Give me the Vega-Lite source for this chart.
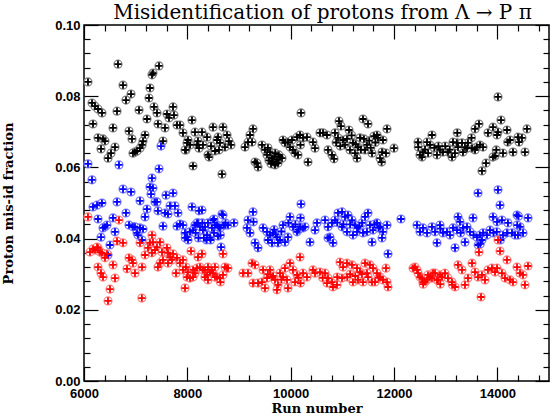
{
"$schema": "https://vega.github.io/schema/vega-lite/v6.json",
"width": 465, "height": 356,
"autosize": "none",
"padding": {"left": 84, "top": 25, "right": 5, "bottom": 35},
"background": "white",
"title": {"text": "Misidentification of protons from Λ → P π", "font": "DejaVu Serif", "fontSize": 20, "fontWeight": "normal", "anchor": "middle", "offset": -4, "dx": 6, "color": "black"},
"datasets": {
"pts": [
{"run":6077,"frac":0.0840,"series":"K"},{"run":6658,"frac":0.0890,"series":"K"},{"run":7452,"frac":0.0885,"series":"K"},{"run":7335,"frac":0.0865,"series":"K"},{"run":7316,"frac":0.0860,"series":"K"},{"run":6755,"frac":0.0831,"series":"K"},{"run":7277,"frac":0.0823,"series":"K"},{"run":6910,"frac":0.0806,"series":"K"},{"run":6813,"frac":0.0789,"series":"K"},{"run":7258,"frac":0.0795,"series":"K"},{"run":6155,"frac":0.0781,"series":"K"},{"run":6213,"frac":0.0772,"series":"K"},{"run":6271,"frac":0.0764,"series":"K"},{"run":6348,"frac":0.0753,"series":"K"},{"run":6639,"frac":0.0758,"series":"K"},{"run":7065,"frac":0.0761,"series":"K"},{"run":7355,"frac":0.0770,"series":"K"},{"run":7413,"frac":0.0753,"series":"K"},{"run":7723,"frac":0.0770,"series":"K"},{"run":7606,"frac":0.0750,"series":"K"},{"run":7645,"frac":0.0739,"series":"K"},{"run":7219,"frac":0.0736,"series":"K"},{"run":7742,"frac":0.0747,"series":"K"},{"run":6174,"frac":0.0722,"series":"K"},{"run":6561,"frac":0.0711,"series":"K"},{"run":7432,"frac":0.0722,"series":"K"},{"run":7568,"frac":0.0711,"series":"K"},{"run":6871,"frac":0.0702,"series":"K"},{"run":7800,"frac":0.0719,"series":"K"},{"run":7858,"frac":0.0719,"series":"K"},{"run":7916,"frac":0.0697,"series":"K"},{"run":8090,"frac":0.0733,"series":"K"},{"run":8148,"frac":0.0699,"series":"K"},{"run":6271,"frac":0.0683,"series":"K"},{"run":6368,"frac":0.0680,"series":"K"},{"run":6406,"frac":0.0674,"series":"K"},{"run":6929,"frac":0.0680,"series":"K"},{"run":7181,"frac":0.0691,"series":"K"},{"run":7142,"frac":0.0674,"series":"K"},{"run":7529,"frac":0.0674,"series":"K"},{"run":6329,"frac":0.0652,"series":"K"},{"run":6600,"frac":0.0657,"series":"K"},{"run":7123,"frac":0.0663,"series":"K"},{"run":7084,"frac":0.0654,"series":"K"},{"run":8013,"frac":0.0677,"series":"K"},{"run":8052,"frac":0.0663,"series":"K"},{"run":8187,"frac":0.0663,"series":"K"},{"run":8226,"frac":0.0654,"series":"K"},{"run":6523,"frac":0.0640,"series":"K"},{"run":6987,"frac":0.0643,"series":"K"},{"run":7026,"frac":0.0646,"series":"K"},{"run":6948,"frac":0.0640,"series":"K"},{"run":7974,"frac":0.0649,"series":"K"},{"run":6465,"frac":0.0626,"series":"K"},{"run":8110,"frac":0.0604,"series":"K"},{"run":8497,"frac":0.0713,"series":"K"},{"run":8690,"frac":0.0713,"series":"K"},{"run":8671,"frac":0.0581,"series":"K"},{"run":8381,"frac":0.0685,"series":"K"},{"run":8284,"frac":0.0699,"series":"K"},{"run":8206,"frac":0.0674,"series":"K"},{"run":8303,"frac":0.0663,"series":"K"},{"run":8400,"frac":0.0635,"series":"K"},{"run":8420,"frac":0.0629,"series":"K"},{"run":7955,"frac":0.0649,"series":"K"},{"run":7994,"frac":0.0669,"series":"K"},{"run":8768,"frac":0.0691,"series":"K"},{"run":8729,"frac":0.0657,"series":"K"},{"run":8594,"frac":0.0685,"series":"K"},{"run":8632,"frac":0.0669,"series":"K"},{"run":8458,"frac":0.0660,"series":"K"},{"run":8535,"frac":0.0646,"series":"K"},{"run":8574,"frac":0.0677,"series":"K"},{"run":8613,"frac":0.0649,"series":"K"},{"run":8806,"frac":0.0674,"series":"K"},{"run":8845,"frac":0.0663,"series":"K"},
{"run":9271,"frac":0.0708,"series":"K"},{"run":9213,"frac":0.0691,"series":"K"},{"run":9174,"frac":0.0671,"series":"K"},{"run":9116,"frac":0.0657,"series":"K"},{"run":9252,"frac":0.0671,"series":"K"},{"run":9310,"frac":0.0615,"series":"K"},{"run":9368,"frac":0.0601,"series":"K"},{"run":9348,"frac":0.0612,"series":"K"},{"run":9445,"frac":0.0663,"series":"K"},{"run":9503,"frac":0.0649,"series":"K"},{"run":9542,"frac":0.0635,"series":"K"},{"run":9600,"frac":0.0643,"series":"K"},{"run":9639,"frac":0.0626,"series":"K"},{"run":9658,"frac":0.0615,"series":"K"},{"run":9697,"frac":0.0607,"series":"K"},{"run":9735,"frac":0.0621,"series":"K"},{"run":9794,"frac":0.0629,"series":"K"},{"run":9755,"frac":0.0612,"series":"K"},{"run":9832,"frac":0.0626,"series":"K"},{"run":9852,"frac":0.0677,"series":"K"},{"run":9890,"frac":0.0669,"series":"K"},{"run":9948,"frac":0.0671,"series":"K"},{"run":9987,"frac":0.0657,"series":"K"},{"run":10026,"frac":0.0677,"series":"K"},{"run":10045,"frac":0.0649,"series":"K"},{"run":10123,"frac":0.0685,"series":"K"},{"run":10181,"frac":0.0691,"series":"K"},{"run":10239,"frac":0.0683,"series":"K"},{"run":10190,"frac":0.0663,"series":"K"},{"run":10084,"frac":0.0640,"series":"K"},{"run":10142,"frac":0.0635,"series":"K"},{"run":10316,"frac":0.0685,"series":"K"},{"run":10335,"frac":0.0615,"series":"K"},{"run":10432,"frac":0.0671,"series":"K"},{"run":10471,"frac":0.0654,"series":"K"},{"run":10200,"frac":0.0753,"series":"K"},{"run":9580,"frac":0.0620,"series":"K"},{"run":9620,"frac":0.0610,"series":"K"},{"run":9680,"frac":0.0630,"series":"K"},{"run":9700,"frac":0.0640,"series":"K"},{"run":9720,"frac":0.0615,"series":"K"},{"run":9770,"frac":0.0635,"series":"K"},{"run":9560,"frac":0.0655,"series":"K"},
{"run":10568,"frac":0.0697,"series":"K"},{"run":10626,"frac":0.0697,"series":"K"},{"run":10703,"frac":0.0691,"series":"K"},{"run":10723,"frac":0.0649,"series":"K"},{"run":10800,"frac":0.0635,"series":"K"},{"run":10839,"frac":0.0624,"series":"K"},{"run":10858,"frac":0.0697,"series":"K"},{"run":10936,"frac":0.0730,"series":"K"},{"run":10974,"frac":0.0716,"series":"K"},{"run":10916,"frac":0.0683,"series":"K"},{"run":11013,"frac":0.0677,"series":"K"},{"run":11052,"frac":0.0663,"series":"K"},{"run":11129,"frac":0.0705,"series":"K"},{"run":11148,"frac":0.0649,"series":"K"},{"run":11206,"frac":0.0669,"series":"K"},{"run":11245,"frac":0.0640,"series":"K"},{"run":11284,"frac":0.0626,"series":"K"},{"run":11303,"frac":0.0657,"series":"K"},{"run":11342,"frac":0.0683,"series":"K"},{"run":11400,"frac":0.0736,"series":"K"},{"run":11419,"frac":0.0680,"series":"K"},{"run":11439,"frac":0.0649,"series":"K"},{"run":11497,"frac":0.0722,"series":"K"},{"run":11477,"frac":0.0663,"series":"K"},{"run":11574,"frac":0.0640,"series":"K"},{"run":11613,"frac":0.0688,"series":"K"},{"run":11671,"frac":0.0691,"series":"K"},{"run":11690,"frac":0.0683,"series":"K"},{"run":11787,"frac":0.0677,"series":"K"},{"run":11768,"frac":0.0643,"series":"K"},{"run":11865,"frac":0.0708,"series":"K"},{"run":11845,"frac":0.0640,"series":"K"},{"run":11760,"frac":0.0615,"series":"K"},{"run":12000,"frac":0.0654,"series":"K"},{"run":11729,"frac":0.0626,"series":"K"},{"run":10880,"frac":0.0670,"series":"K"},{"run":10960,"frac":0.0660,"series":"K"},{"run":11090,"frac":0.0680,"series":"K"},{"run":11180,"frac":0.0690,"series":"K"},{"run":11260,"frac":0.0665,"series":"K"},{"run":11360,"frac":0.0650,"series":"K"},{"run":11520,"frac":0.0675,"series":"K"},{"run":11550,"frac":0.0655,"series":"K"},{"run":11640,"frac":0.0670,"series":"K"},
{"run":13568,"frac":0.0708,"series":"K"},{"run":13645,"frac":0.0722,"series":"K"},{"run":13819,"frac":0.0697,"series":"K"},{"run":13916,"frac":0.0713,"series":"K"},{"run":14013,"frac":0.0699,"series":"K"},{"run":13994,"frac":0.0691,"series":"K"},{"run":14071,"frac":0.0733,"series":"K"},{"run":14187,"frac":0.0705,"series":"K"},{"run":14200,"frac":0.0671,"series":"K"},{"run":14245,"frac":0.0677,"series":"K"},{"run":14400,"frac":0.0685,"series":"K"},{"run":14419,"frac":0.0671,"series":"K"},{"run":14477,"frac":0.0683,"series":"K"},{"run":14574,"frac":0.0708,"series":"K"},{"run":14535,"frac":0.0643,"series":"K"},{"run":14303,"frac":0.0643,"series":"K"},{"run":14110,"frac":0.0640,"series":"K"},{"run":13980,"frac":0.0649,"series":"K"},{"run":13955,"frac":0.0632,"series":"K"},{"run":13916,"frac":0.0629,"series":"K"},{"run":13781,"frac":0.0612,"series":"K"},{"run":13703,"frac":0.0590,"series":"K"},{"run":13606,"frac":0.0657,"series":"K"},{"run":13568,"frac":0.0649,"series":"K"},{"run":13665,"frac":0.0663,"series":"K"},{"run":13723,"frac":0.0657,"series":"K"},{"run":13510,"frac":0.0654,"series":"K"},{"run":13500,"frac":0.0683,"series":"K"},{"run":13413,"frac":0.0654,"series":"K"},{"run":13432,"frac":0.0669,"series":"K"},{"run":13335,"frac":0.0643,"series":"K"},{"run":13239,"frac":0.0657,"series":"K"},{"run":13219,"frac":0.0669,"series":"K"},{"run":13142,"frac":0.0671,"series":"K"},{"run":13225,"frac":0.0697,"series":"K"},{"run":13316,"frac":0.0669,"series":"K"},{"run":13374,"frac":0.0657,"series":"K"},{"run":13123,"frac":0.0629,"series":"K"},{"run":13045,"frac":0.0643,"series":"K"},{"run":12948,"frac":0.0643,"series":"K"},{"run":12890,"frac":0.0649,"series":"K"},{"run":12832,"frac":0.0635,"series":"K"},{"run":12735,"frac":0.0691,"series":"K"},{"run":12697,"frac":0.0663,"series":"K"},{"run":12639,"frac":0.0671,"series":"K"},{"run":12542,"frac":0.0629,"series":"K"},{"run":12561,"frac":0.0643,"series":"K"},{"run":12465,"frac":0.0671,"series":"K"},{"run":12470,"frac":0.0657,"series":"K"},{"run":12503,"frac":0.0635,"series":"K"},{"run":14013,"frac":0.0798,"series":"K"},{"run":12600,"frac":0.0650,"series":"K"},{"run":12780,"frac":0.0655,"series":"K"},{"run":12990,"frac":0.0660,"series":"K"},{"run":13080,"frac":0.0650,"series":"K"},{"run":13180,"frac":0.0640,"series":"K"},{"run":12660,"frac":0.0640,"series":"K"},{"run":12860,"frac":0.0660,"series":"K"},
{"run":6077,"frac":0.0610,"series":"B"},{"run":6155,"frac":0.0565,"series":"B"},{"run":6677,"frac":0.0607,"series":"B"},{"run":7452,"frac":0.0596,"series":"B"},{"run":7490,"frac":0.0660,"series":"B"},{"run":7316,"frac":0.0570,"series":"B"},{"run":7277,"frac":0.0545,"series":"B"},{"run":7335,"frac":0.0542,"series":"B"},{"run":7297,"frac":0.0525,"series":"B"},{"run":6755,"frac":0.0539,"series":"B"},{"run":6910,"frac":0.0531,"series":"B"},{"run":6174,"frac":0.0489,"series":"B"},{"run":6252,"frac":0.0494,"series":"B"},{"run":6348,"frac":0.0500,"series":"B"},{"run":6639,"frac":0.0503,"series":"B"},{"run":7084,"frac":0.0506,"series":"B"},{"run":7374,"frac":0.0503,"series":"B"},{"run":7413,"frac":0.0503,"series":"B"},{"run":7587,"frac":0.0522,"series":"B"},{"run":7723,"frac":0.0528,"series":"B"},{"run":7665,"frac":0.0492,"series":"B"},{"run":7761,"frac":0.0492,"series":"B"},{"run":8090,"frac":0.0489,"series":"B"},{"run":8226,"frac":0.0478,"series":"B"},{"run":7219,"frac":0.0483,"series":"B"},{"run":7432,"frac":0.0478,"series":"B"},{"run":7568,"frac":0.0472,"series":"B"},{"run":7626,"frac":0.0469,"series":"B"},{"run":7819,"frac":0.0472,"series":"B"},{"run":6813,"frac":0.0472,"series":"B"},{"run":6271,"frac":0.0455,"series":"B"},{"run":6561,"frac":0.0458,"series":"B"},{"run":7181,"frac":0.0461,"series":"B"},{"run":6406,"frac":0.0433,"series":"B"},{"run":6368,"frac":0.0430,"series":"B"},{"run":6445,"frac":0.0438,"series":"B"},{"run":6871,"frac":0.0438,"series":"B"},{"run":6948,"frac":0.0433,"series":"B"},{"run":6987,"frac":0.0433,"series":"B"},{"run":7084,"frac":0.0430,"series":"B"},{"run":7142,"frac":0.0427,"series":"B"},{"run":7529,"frac":0.0435,"series":"B"},{"run":7800,"frac":0.0435,"series":"B"},{"run":7858,"frac":0.0441,"series":"B"},{"run":7916,"frac":0.0438,"series":"B"},{"run":6600,"frac":0.0419,"series":"B"},{"run":7026,"frac":0.0416,"series":"B"},{"run":6329,"frac":0.0404,"series":"B"},{"run":7045,"frac":0.0410,"series":"B"},{"run":7123,"frac":0.0396,"series":"B"},{"run":7955,"frac":0.0416,"series":"B"},{"run":7994,"frac":0.0404,"series":"B"},{"run":8052,"frac":0.0419,"series":"B"},{"run":8110,"frac":0.0424,"series":"B"},{"run":8148,"frac":0.0438,"series":"B"},{"run":8206,"frac":0.0444,"series":"B"},{"run":7960,"frac":0.0402,"series":"B"},{"run":8013,"frac":0.0396,"series":"B"},{"run":6503,"frac":0.0382,"series":"B"},{"run":6465,"frac":0.0354,"series":"B"},{"run":8671,"frac":0.0469,"series":"B"},{"run":8497,"frac":0.0452,"series":"B"},{"run":8574,"frac":0.0438,"series":"B"},{"run":8632,"frac":0.0430,"series":"B"},{"run":8729,"frac":0.0438,"series":"B"},{"run":8787,"frac":0.0438,"series":"B"},{"run":8303,"frac":0.0424,"series":"B"},{"run":8381,"frac":0.0410,"series":"B"},{"run":8439,"frac":0.0402,"series":"B"},{"run":8516,"frac":0.0416,"series":"B"},{"run":8594,"frac":0.0407,"series":"B"},{"run":8652,"frac":0.0376,"series":"B"},{"run":8245,"frac":0.0433,"series":"B"},{"run":8187,"frac":0.0444,"series":"B"},{"run":8160,"frac":0.0416,"series":"B"},{"run":8215,"frac":0.0402,"series":"B"},{"run":8370,"frac":0.0396,"series":"B"},{"run":8284,"frac":0.0480,"series":"B"},{"run":8290,"frac":0.0444,"series":"B"},{"run":8342,"frac":0.0433,"series":"B"},{"run":8400,"frac":0.0444,"series":"B"},{"run":8477,"frac":0.0430,"series":"B"},{"run":8535,"frac":0.0438,"series":"B"},{"run":8600,"frac":0.0433,"series":"B"},{"run":8700,"frac":0.0438,"series":"B"},{"run":8740,"frac":0.0444,"series":"B"},{"run":8450,"frac":0.0396,"series":"B"},{"run":8320,"frac":0.0402,"series":"B"},{"run":8640,"frac":0.0410,"series":"B"},{"run":8690,"frac":0.0466,"series":"B"},{"run":8516,"frac":0.0455,"series":"B"},{"run":8903,"frac":0.0444,"series":"B"},
{"run":9271,"frac":0.0475,"series":"B"},{"run":9174,"frac":0.0452,"series":"B"},{"run":9280,"frac":0.0447,"series":"B"},{"run":9155,"frac":0.0430,"series":"B"},{"run":9213,"frac":0.0416,"series":"B"},{"run":9310,"frac":0.0388,"series":"B"},{"run":9368,"frac":0.0374,"series":"B"},{"run":9465,"frac":0.0430,"series":"B"},{"run":9542,"frac":0.0419,"series":"B"},{"run":9600,"frac":0.0410,"series":"B"},{"run":9658,"frac":0.0416,"series":"B"},{"run":9735,"frac":0.0404,"series":"B"},{"run":9794,"frac":0.0396,"series":"B"},{"run":9561,"frac":0.0396,"series":"B"},{"run":9639,"frac":0.0388,"series":"B"},{"run":9755,"frac":0.0388,"series":"B"},{"run":9890,"frac":0.0390,"series":"B"},{"run":9948,"frac":0.0404,"series":"B"},{"run":9852,"frac":0.0438,"series":"B"},{"run":9955,"frac":0.0444,"series":"B"},{"run":9987,"frac":0.0461,"series":"B"},{"run":10045,"frac":0.0433,"series":"B"},{"run":10123,"frac":0.0419,"series":"B"},{"run":10181,"frac":0.0433,"series":"B"},{"run":10239,"frac":0.0430,"series":"B"},{"run":10277,"frac":0.0433,"series":"B"},{"run":10190,"frac":0.0458,"series":"B"},{"run":10200,"frac":0.0497,"series":"B"},{"run":10374,"frac":0.0390,"series":"B"},{"run":10471,"frac":0.0424,"series":"B"},{"run":10510,"frac":0.0444,"series":"B"},{"run":9680,"frac":0.0425,"series":"B"},{"run":9710,"frac":0.0412,"series":"B"},{"run":9820,"frac":0.0420,"series":"B"},{"run":10090,"frac":0.0440,"series":"B"},{"run":10150,"frac":0.0425,"series":"B"},
{"run":10665,"frac":0.0452,"series":"B"},{"run":10723,"frac":0.0433,"series":"B"},{"run":10800,"frac":0.0444,"series":"B"},{"run":10858,"frac":0.0452,"series":"B"},{"run":10916,"frac":0.0472,"series":"B"},{"run":10994,"frac":0.0475,"series":"B"},{"run":11052,"frac":0.0461,"series":"B"},{"run":11110,"frac":0.0466,"series":"B"},{"run":11187,"frac":0.0452,"series":"B"},{"run":11245,"frac":0.0438,"series":"B"},{"run":11303,"frac":0.0430,"series":"B"},{"run":11381,"frac":0.0444,"series":"B"},{"run":11439,"frac":0.0461,"series":"B"},{"run":11497,"frac":0.0472,"series":"B"},{"run":11535,"frac":0.0438,"series":"B"},{"run":11594,"frac":0.0424,"series":"B"},{"run":11671,"frac":0.0444,"series":"B"},{"run":11729,"frac":0.0433,"series":"B"},{"run":11787,"frac":0.0419,"series":"B"},{"run":11865,"frac":0.0438,"series":"B"},{"run":11768,"frac":0.0402,"series":"B"},{"run":11574,"frac":0.0390,"series":"B"},{"run":10723,"frac":0.0402,"series":"B"},{"run":10819,"frac":0.0388,"series":"B"},{"run":10761,"frac":0.0404,"series":"B"},{"run":10994,"frac":0.0433,"series":"B"},{"run":11090,"frac":0.0419,"series":"B"},{"run":11206,"frac":0.0410,"series":"B"},{"run":11284,"frac":0.0419,"series":"B"},{"run":11400,"frac":0.0416,"series":"B"},{"run":11477,"frac":0.0419,"series":"B"},{"run":12135,"frac":0.0455,"series":"B"},{"run":11884,"frac":0.0357,"series":"B"},{"run":10900,"frac":0.0445,"series":"B"},{"run":11020,"frac":0.0440,"series":"B"},{"run":11150,"frac":0.0440,"series":"B"},{"run":11330,"frac":0.0435,"series":"B"},{"run":11620,"frac":0.0440,"series":"B"},{"run":11700,"frac":0.0430,"series":"B"},
{"run":12445,"frac":0.0438,"series":"B"},{"run":12503,"frac":0.0419,"series":"B"},{"run":12561,"frac":0.0430,"series":"B"},{"run":12639,"frac":0.0416,"series":"B"},{"run":12735,"frac":0.0433,"series":"B"},{"run":12794,"frac":0.0419,"series":"B"},{"run":12832,"frac":0.0388,"series":"B"},{"run":12890,"frac":0.0438,"series":"B"},{"run":13626,"frac":0.0528,"series":"B"},{"run":14013,"frac":0.0537,"series":"B"},{"run":14052,"frac":0.0494,"series":"B"},{"run":13239,"frac":0.0461,"series":"B"},{"run":13277,"frac":0.0447,"series":"B"},{"run":13529,"frac":0.0458,"series":"B"},{"run":13916,"frac":0.0461,"series":"B"},{"run":13994,"frac":0.0447,"series":"B"},{"run":14090,"frac":0.0452,"series":"B"},{"run":14206,"frac":0.0444,"series":"B"},{"run":14381,"frac":0.0466,"series":"B"},{"run":14439,"frac":0.0433,"series":"B"},{"run":12900,"frac":0.0428,"series":"B"},{"run":12948,"frac":0.0416,"series":"B"},{"run":13026,"frac":0.0419,"series":"B"},{"run":13084,"frac":0.0410,"series":"B"},{"run":13142,"frac":0.0430,"series":"B"},{"run":13219,"frac":0.0424,"series":"B"},{"run":13290,"frac":0.0416,"series":"B"},{"run":13335,"frac":0.0430,"series":"B"},{"run":13413,"frac":0.0433,"series":"B"},{"run":13471,"frac":0.0419,"series":"B"},{"run":13540,"frac":0.0410,"series":"B"},{"run":13606,"frac":0.0404,"series":"B"},{"run":13665,"frac":0.0410,"series":"B"},{"run":13723,"frac":0.0416,"series":"B"},{"run":13800,"frac":0.0410,"series":"B"},{"run":13858,"frac":0.0424,"series":"B"},{"run":13925,"frac":0.0416,"series":"B"},{"run":13990,"frac":0.0419,"series":"B"},{"run":14060,"frac":0.0396,"series":"B"},{"run":14110,"frac":0.0410,"series":"B"},{"run":14187,"frac":0.0416,"series":"B"},{"run":14284,"frac":0.0416,"series":"B"},{"run":14342,"frac":0.0410,"series":"B"},{"run":14400,"frac":0.0410,"series":"B"},{"run":13181,"frac":0.0374,"series":"B"},{"run":13374,"frac":0.0390,"series":"B"},{"run":13630,"frac":0.0382,"series":"B"},{"run":13703,"frac":0.0396,"series":"B"},{"run":14594,"frac":0.0458,"series":"B"},{"run":14410,"frac":0.0463,"series":"B"},{"run":14497,"frac":0.0416,"series":"B"},{"run":14385,"frac":0.0438,"series":"B"},{"run":13670,"frac":0.0385,"series":"B"},
{"run":6077,"frac":0.0461,"series":"R"},{"run":6677,"frac":0.0452,"series":"R"},{"run":6174,"frac":0.0371,"series":"R"},{"run":6116,"frac":0.0362,"series":"R"},{"run":6213,"frac":0.0368,"series":"R"},{"run":6271,"frac":0.0374,"series":"R"},{"run":6310,"frac":0.0362,"series":"R"},{"run":6348,"frac":0.0360,"series":"R"},{"run":6252,"frac":0.0376,"series":"R"},{"run":6406,"frac":0.0346,"series":"R"},{"run":6445,"frac":0.0357,"series":"R"},{"run":6271,"frac":0.0320,"series":"R"},{"run":6329,"frac":0.0303,"series":"R"},{"run":6368,"frac":0.0292,"series":"R"},{"run":6561,"frac":0.0326,"series":"R"},{"run":6600,"frac":0.0289,"series":"R"},{"run":6503,"frac":0.0258,"series":"R"},{"run":6465,"frac":0.0225,"series":"R"},{"run":6639,"frac":0.0393,"series":"R"},{"run":6755,"frac":0.0388,"series":"R"},{"run":6832,"frac":0.0315,"series":"R"},{"run":6871,"frac":0.0346,"series":"R"},{"run":6929,"frac":0.0340,"series":"R"},{"run":6948,"frac":0.0331,"series":"R"},{"run":6987,"frac":0.0303,"series":"R"},{"run":7123,"frac":0.0320,"series":"R"},{"run":7120,"frac":0.0233,"series":"R"},{"run":7084,"frac":0.0388,"series":"R"},{"run":7316,"frac":0.0410,"series":"R"},{"run":7277,"frac":0.0388,"series":"R"},{"run":7335,"frac":0.0390,"series":"R"},{"run":7471,"frac":0.0390,"series":"R"},{"run":7413,"frac":0.0376,"series":"R"},{"run":7239,"frac":0.0374,"series":"R"},{"run":7316,"frac":0.0360,"series":"R"},{"run":7374,"frac":0.0368,"series":"R"},{"run":7510,"frac":0.0362,"series":"R"},{"run":7181,"frac":0.0354,"series":"R"},{"run":7606,"frac":0.0374,"series":"R"},{"run":7626,"frac":0.0360,"series":"R"},{"run":7665,"frac":0.0348,"series":"R"},{"run":7723,"frac":0.0357,"series":"R"},{"run":7800,"frac":0.0346,"series":"R"},{"run":7858,"frac":0.0331,"series":"R"},{"run":7916,"frac":0.0340,"series":"R"},{"run":7974,"frac":0.0320,"series":"R"},{"run":7471,"frac":0.0331,"series":"R"},{"run":7529,"frac":0.0340,"series":"R"},{"run":7432,"frac":0.0320,"series":"R"},{"run":7626,"frac":0.0331,"series":"R"},{"run":7703,"frac":0.0340,"series":"R"},{"run":7781,"frac":0.0303,"series":"R"},{"run":7916,"frac":0.0312,"series":"R"},{"run":7994,"frac":0.0292,"series":"R"},{"run":8052,"frac":0.0289,"series":"R"},{"run":8110,"frac":0.0312,"series":"R"},{"run":8187,"frac":0.0317,"series":"R"},{"run":8013,"frac":0.0306,"series":"R"},{"run":8148,"frac":0.0303,"series":"R"},{"run":8071,"frac":0.0365,"series":"R"},{"run":8206,"frac":0.0348,"series":"R"},{"run":7955,"frac":0.0261,"series":"R"},{"run":8690,"frac":0.0357,"series":"R"},{"run":8245,"frac":0.0320,"series":"R"},{"run":8303,"frac":0.0312,"series":"R"},{"run":8381,"frac":0.0298,"series":"R"},{"run":8439,"frac":0.0306,"series":"R"},{"run":8497,"frac":0.0303,"series":"R"},{"run":8574,"frac":0.0292,"series":"R"},{"run":8632,"frac":0.0289,"series":"R"},{"run":8690,"frac":0.0298,"series":"R"},{"run":8768,"frac":0.0317,"series":"R"},{"run":8640,"frac":0.0278,"series":"R"},{"run":8110,"frac":0.0292,"series":"R"},{"run":8284,"frac":0.0357,"series":"R"},{"run":8729,"frac":0.0320,"series":"R"},{"run":8787,"frac":0.0317,"series":"R"},{"run":8342,"frac":0.0312,"series":"R"},{"run":8400,"frac":0.0320,"series":"R"},{"run":8477,"frac":0.0312,"series":"R"},{"run":8535,"frac":0.0320,"series":"R"},{"run":8342,"frac":0.0292,"series":"R"},{"run":8400,"frac":0.0284,"series":"R"},{"run":8535,"frac":0.0292,"series":"R"},
{"run":9077,"frac":0.0303,"series":"R"},{"run":9174,"frac":0.0303,"series":"R"},{"run":9252,"frac":0.0331,"series":"R"},{"run":9310,"frac":0.0326,"series":"R"},{"run":9271,"frac":0.0275,"series":"R"},{"run":9368,"frac":0.0275,"series":"R"},{"run":9445,"frac":0.0278,"series":"R"},{"run":9503,"frac":0.0261,"series":"R"},{"run":9465,"frac":0.0312,"series":"R"},{"run":9600,"frac":0.0312,"series":"R"},{"run":9639,"frac":0.0292,"series":"R"},{"run":9697,"frac":0.0284,"series":"R"},{"run":9755,"frac":0.0270,"series":"R"},{"run":9794,"frac":0.0303,"series":"R"},{"run":9852,"frac":0.0292,"series":"R"},{"run":9929,"frac":0.0284,"series":"R"},{"run":9948,"frac":0.0261,"series":"R"},{"run":9890,"frac":0.0317,"series":"R"},{"run":9987,"frac":0.0331,"series":"R"},{"run":10045,"frac":0.0312,"series":"R"},{"run":10123,"frac":0.0298,"series":"R"},{"run":10181,"frac":0.0348,"series":"R"},{"run":10239,"frac":0.0303,"series":"R"},{"run":10316,"frac":0.0292,"series":"R"},{"run":10432,"frac":0.0312,"series":"R"},{"run":10471,"frac":0.0303,"series":"R"},{"run":10190,"frac":0.0275,"series":"R"},{"run":10084,"frac":0.0278,"series":"R"},{"run":9735,"frac":0.0256,"series":"R"},{"run":9542,"frac":0.0289,"series":"R"},{"run":9560,"frac":0.0300,"series":"R"},{"run":9660,"frac":0.0295,"series":"R"},{"run":9820,"frac":0.0285,"series":"R"},{"run":10150,"frac":0.0290,"series":"R"},
{"run":10568,"frac":0.0306,"series":"R"},{"run":10665,"frac":0.0303,"series":"R"},{"run":10723,"frac":0.0289,"series":"R"},{"run":10800,"frac":0.0278,"series":"R"},{"run":10819,"frac":0.0264,"series":"R"},{"run":10897,"frac":0.0270,"series":"R"},{"run":10955,"frac":0.0334,"series":"R"},{"run":11013,"frac":0.0320,"series":"R"},{"run":11090,"frac":0.0331,"series":"R"},{"run":11187,"frac":0.0326,"series":"R"},{"run":11284,"frac":0.0317,"series":"R"},{"run":11342,"frac":0.0306,"series":"R"},{"run":11439,"frac":0.0331,"series":"R"},{"run":11535,"frac":0.0326,"series":"R"},{"run":11594,"frac":0.0317,"series":"R"},{"run":11477,"frac":0.0303,"series":"R"},{"run":11574,"frac":0.0278,"series":"R"},{"run":11671,"frac":0.0303,"series":"R"},{"run":11729,"frac":0.0292,"series":"R"},{"run":11787,"frac":0.0284,"series":"R"},{"run":11865,"frac":0.0278,"series":"R"},{"run":11884,"frac":0.0264,"series":"R"},{"run":10703,"frac":0.0275,"series":"R"},{"run":10900,"frac":0.0292,"series":"R"},{"run":10994,"frac":0.0289,"series":"R"},{"run":11095,"frac":0.0292,"series":"R"},{"run":11206,"frac":0.0278,"series":"R"},{"run":11303,"frac":0.0284,"series":"R"},{"run":11400,"frac":0.0278,"series":"R"},{"run":11497,"frac":0.0292,"series":"R"},{"run":11632,"frac":0.0278,"series":"R"},{"run":11845,"frac":0.0317,"series":"R"},{"run":10620,"frac":0.0290,"series":"R"},{"run":11150,"frac":0.0300,"series":"R"},{"run":11250,"frac":0.0295,"series":"R"},{"run":11380,"frac":0.0300,"series":"R"},{"run":11700,"frac":0.0290,"series":"R"},
{"run":12368,"frac":0.0317,"series":"R"},{"run":12406,"frac":0.0320,"series":"R"},{"run":12445,"frac":0.0312,"series":"R"},{"run":12503,"frac":0.0292,"series":"R"},{"run":12561,"frac":0.0278,"series":"R"},{"run":12639,"frac":0.0284,"series":"R"},{"run":12697,"frac":0.0292,"series":"R"},{"run":12755,"frac":0.0303,"series":"R"},{"run":12832,"frac":0.0284,"series":"R"},{"run":12890,"frac":0.0298,"series":"R"},{"run":12465,"frac":0.0303,"series":"R"},{"run":12542,"frac":0.0289,"series":"R"},{"run":12600,"frac":0.0278,"series":"R"},{"run":12658,"frac":0.0298,"series":"R"},{"run":12735,"frac":0.0289,"series":"R"},{"run":12794,"frac":0.0303,"series":"R"},{"run":12852,"frac":0.0284,"series":"R"},{"run":12929,"frac":0.0292,"series":"R"},{"run":12987,"frac":0.0303,"series":"R"},{"run":13045,"frac":0.0289,"series":"R"},{"run":13123,"frac":0.0278,"series":"R"},{"run":13181,"frac":0.0264,"series":"R"},{"run":13239,"frac":0.0326,"series":"R"},{"run":13316,"frac":0.0312,"series":"R"},{"run":13374,"frac":0.0270,"series":"R"},{"run":13432,"frac":0.0289,"series":"R"},{"run":13510,"frac":0.0331,"series":"R"},{"run":13568,"frac":0.0306,"series":"R"},{"run":13626,"frac":0.0292,"series":"R"},{"run":13703,"frac":0.0298,"series":"R"},{"run":13761,"frac":0.0284,"series":"R"},{"run":13819,"frac":0.0312,"series":"R"},{"run":13897,"frac":0.0317,"series":"R"},{"run":13955,"frac":0.0306,"series":"R"},{"run":13994,"frac":0.0317,"series":"R"},{"run":14090,"frac":0.0303,"series":"R"},{"run":14148,"frac":0.0289,"series":"R"},{"run":14187,"frac":0.0340,"series":"R"},{"run":14245,"frac":0.0284,"series":"R"},{"run":14303,"frac":0.0278,"series":"R"},{"run":14381,"frac":0.0320,"series":"R"},{"run":14439,"frac":0.0303,"series":"R"},{"run":14497,"frac":0.0298,"series":"R"},{"run":14594,"frac":0.0323,"series":"R"},{"run":14535,"frac":0.0270,"series":"R"},{"run":14013,"frac":0.0396,"series":"R"},{"run":14052,"frac":0.0365,"series":"R"},{"run":13645,"frac":0.0362,"series":"R"},{"run":13684,"frac":0.0236,"series":"R"},{"run":12565,"frac":0.0272,"series":"R"},{"run":13130,"frac":0.0270,"series":"R"},{"run":12895,"frac":0.0272,"series":"R"}
],
"anchor": [{"run": 6000, "frac": 0}]
},
"layer": [
{
"data": {"name": "pts"},
"mark": {"type": "point", "shape": "circle", "filled": true, "fill": "white", "size": 62, "strokeWidth": 1.3, "opacity": 1},
"encoding": {
"x": {"field": "run", "type": "quantitative", "scale": {"domain": [6000, 15000], "nice": false, "zero": false},
"axis": {"orient": "bottom", "values": [6000, 8000, 10000, 12000, 14000], "tickSize": -14, "labelPadding": 20, "labelFlush": false, "format": "d", "title": "Run number", "titlePadding": 2}},
"y": {"field": "frac", "type": "quantitative", "scale": {"domain": [0, 0.1], "nice": false, "zero": true},
"axis": {"orient": "left", "values": [0, 0.02, 0.04, 0.06, 0.08, 0.1], "tickSize": -14, "labelPadding": 18, "labelFlush": false, "format": ".2f", "title": "Proton mis-id fraction", "titlePadding": 39}},
"stroke": {"field": "series", "type": "nominal", "scale": {"domain": ["K", "B", "R"], "range": ["#808080", "#7878ff", "#ff8080"]}, "legend": null}
}
},
{
"data": {"name": "pts"},
"mark": {"type": "point", "shape": "M-1,0L1,0M0,-1L0,1", "filled": false, "size": 50, "strokeWidth": 1.8, "opacity": 1},
"encoding": {
"x": {"field": "run", "type": "quantitative", "axis": {"orient": "top", "values": [6000, 8000, 10000, 12000, 14000], "tickSize": -14, "labels": false, "title": null}},
"y": {"field": "frac", "type": "quantitative", "axis": {"orient": "right", "values": [0, 0.02, 0.04, 0.06, 0.08, 0.1], "tickSize": -14, "labels": false, "title": null}},
"color": {"field": "series", "type": "nominal", "scale": {"domain": ["K", "B", "R"], "range": ["#000000", "#0000ff", "#ff0000"]}, "legend": null}
}
},
{
"data": {"name": "anchor"},
"mark": {"type": "point", "opacity": 0},
"encoding": {
"x": {"field": "run", "type": "quantitative", "axis": {"orient": "bottom", "values": [6400, 6800, 7200, 7600, 8400, 8800, 9200, 9600, 10400, 10800, 11200, 11600, 12400, 12800, 13200, 13600, 14400, 14800], "tickSize": -6, "labels": false, "title": null}},
"y": {"field": "frac", "type": "quantitative", "axis": {"orient": "left", "values": [0.004, 0.008, 0.012, 0.016, 0.024, 0.028, 0.032, 0.036, 0.044, 0.048, 0.052, 0.056, 0.064, 0.068, 0.072, 0.076, 0.084, 0.088, 0.092, 0.096], "tickSize": -6, "labels": false, "title": null}}
}
},
{
"data": {"name": "anchor"},
"mark": {"type": "point", "opacity": 0},
"encoding": {
"x": {"field": "run", "type": "quantitative", "axis": {"orient": "top", "values": [6400, 6800, 7200, 7600, 8400, 8800, 9200, 9600, 10400, 10800, 11200, 11600, 12400, 12800, 13200, 13600, 14400, 14800], "tickSize": -6, "labels": false, "title": null}},
"y": {"field": "frac", "type": "quantitative", "axis": {"orient": "right", "values": [0.004, 0.008, 0.012, 0.016, 0.024, 0.028, 0.032, 0.036, 0.044, 0.048, 0.052, 0.056, 0.064, 0.068, 0.072, 0.076, 0.084, 0.088, 0.092, 0.096], "tickSize": -6, "labels": false, "title": null}}
}
}
],
"resolve": {"axis": {"x": "independent", "y": "independent"}},
"config": {
"view": {"stroke": "black", "strokeWidth": 1.5},
"axis": {"domain": false, "grid": false, "tickColor": "black", "tickWidth": 1.2, "labelFont": "Liberation Sans", "labelFontWeight": "bold", "labelFontSize": 13, "labelColor": "black", "titleFont": "DejaVu Serif", "titleFontWeight": "bold", "titleFontSize": 13, "titleColor": "black"}
}
}
